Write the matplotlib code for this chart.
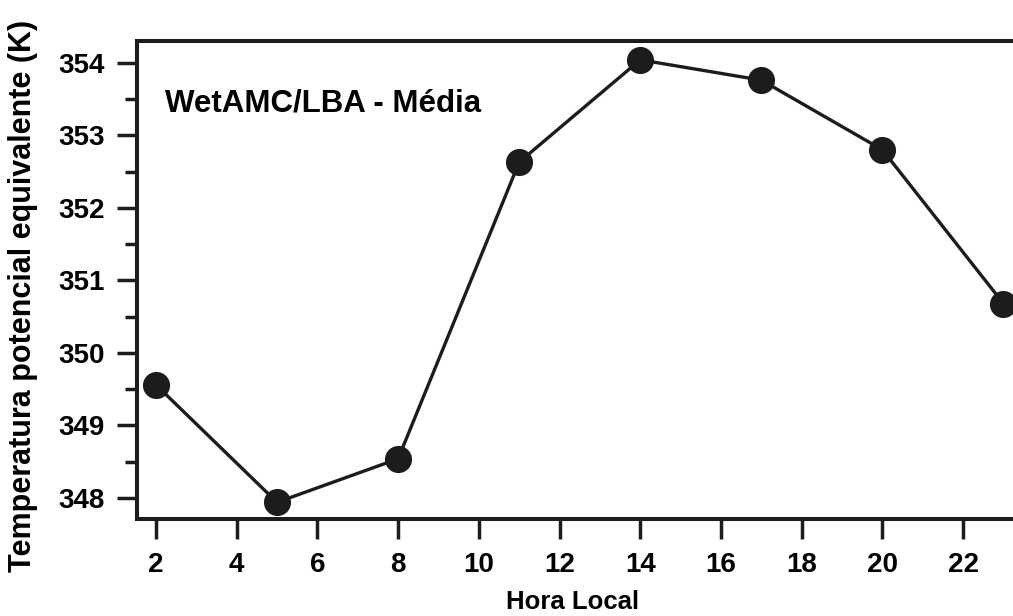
import numpy as np
import matplotlib
matplotlib.use("Agg")
import matplotlib.pyplot as plt
from matplotlib.ticker import MultipleLocator

# mean equivalent potential temperature by local hour
hora = [2, 5, 8, 11, 14, 17, 20, 23]
theta_e = [349.56, 347.94, 348.54, 352.63, 354.04, 353.76, 352.80, 350.68]

x_ticks = [2, 4, 6, 8, 10, 12, 14, 16, 18, 20, 22]
y_ticks = [348, 349, 350, 351, 352, 353, 354]

plt.rcParams['font.family'] = ['Liberation Sans', 'DejaVu Sans']
plt.rcParams['font.weight'] = 'bold'

W, H = 1013, 616
fig = plt.figure(figsize=(W / 100, H / 100), dpi=100)
ax = fig.add_axes([137 / W, 97 / H, (1016 - 137) / W, (519 - 41) / H])

ink = '#1c1c1c'
ax.plot(hora, theta_e, '-o', color=ink, lw=2.4, ms=18.5, clip_on=False, zorder=3)

ax.set_xlim(1.53, 23.31)
ax.set_ylim(347.71, 354.30)
ax.set_xticks(x_ticks)
ax.set_yticks(y_ticks)
ax.yaxis.set_minor_locator(MultipleLocator(0.5))

for s in ax.spines.values():
    s.set_linewidth(2.9)
    s.set_color(ink)

ax.tick_params(axis='both', which='major', direction='out', length=14.5, width=2.5,
               color=ink, labelsize=20, pad=9)
ax.tick_params(axis='y', which='minor', direction='out', length=8.6, width=2.5, color=ink)
ax.tick_params(top=False, right=False)
for lab in ax.get_xticklabels() + ax.get_yticklabels():
    lab.set_fontweight('bold')

ax.text((165 - 137) / 879, (519 - 103) / 478, 'WetAMC/LBA - Média', transform=ax.transAxes,
        fontsize=22.5, fontweight='bold', ha='left', va='center', color='black')

fig.text(573 / W, 1 - 602 / H, 'Hora Local', fontsize=18.5, fontweight='bold',
         ha='center', va='center')
fig.text(23 / W, 1 - 296 / H, 'Temperatura potencial equivalente (K)', fontsize=22,
         fontweight='bold', rotation=90, ha='center', va='center')

fig.savefig('out.png', dpi=100)
